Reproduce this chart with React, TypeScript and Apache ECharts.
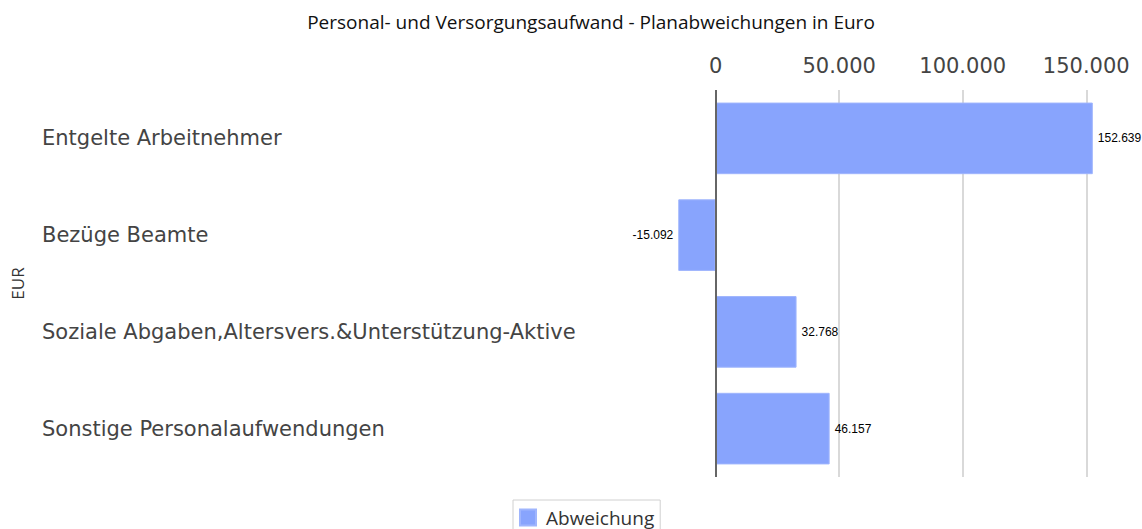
import React, { useEffect, useRef } from "react";
import * as echarts from "echarts";

const categories = [
  "Entgelte Arbeitnehmer",
  "Bezüge Beamte",
  "Soziale Abgaben,Altersvers.&Unterstützung-Aktive",
  "Sonstige Personalaufwendungen",
];
const abweichung = [152639, -15092, 32768, 46157];
const seriesName = "Abweichung";
const titleText = "Personal- und Versorgungsaufwand - Planabweichungen in Euro";
const axisName = "EUR";

const fmt = (v: number) => {
  const s = Math.abs(Math.round(v)).toString().replace(/\B(?=(\d{3})+(?!\d))/g, ".");
  return (v < 0 ? "-" : "") + s;
};

export default function App() {
  const ref = useRef<HTMLDivElement>(null);
  useEffect(() => {
    document.body.style.margin = "0";
    const chart = echarts.init(ref.current!, undefined, { renderer: "svg" });
    const gridLeft = 592;
    chart.setOption({
      animation: false,
      title: {
        text: titleText,
        left: 586,
        textAlign: "center",
        top: 7,
        textStyle: { fontSize: 19, fontWeight: "normal", color: "#111", fontFamily: "Open Sans" },
      },
      grid: { left: gridLeft, right: 31, top: 90, bottom: 52, containLabel: false },
      xAxis: {
        type: "value",
        position: "top",
        min: -50000,
        max: 160000,
        interval: 50000,
        axisLine: { show: false },
        axisTick: { show: false },
        axisLabel: {
          fontSize: 21,
          color: "#444",
          fontFamily: "DejaVu Sans",
          margin: 14,
          showMaxLabel: false,
          formatter: (v: number) => (v < 0 ? "" : fmt(v)),
        },
        splitLine: {
          show: true,
          showMinLine: false,
          showMaxLine: false,
          lineStyle: { color: "#d9d9d9", width: 2 },
        },
      },
      yAxis: {
        type: "category",
        inverse: true,
        data: categories,
        name: axisName,
        nameLocation: "middle",
        nameRotate: 90,
        nameGap: gridLeft - 26,
        nameTextStyle: { fontSize: 17, color: "#333", fontFamily: "Open Sans" },
        axisLine: { show: false },
        axisTick: { show: false },
        axisLabel: {
          align: "left",
          margin: gridLeft - 42,
          fontSize: 21,
          color: "#444",
          fontFamily: "DejaVu Sans",
        },
        splitLine: { show: false },
      },
      legend: {
        bottom: -8,
        left: 513,
        itemWidth: 16,
        itemHeight: 16,
        itemGap: 8,
        borderColor: "#d0d0d0",
        borderWidth: 1,
        padding: [8, 6, 10, 6],
        textStyle: { fontSize: 19, color: "#333", fontFamily: "Open Sans", padding: [0, 0, 0, 5] },
        data: [{ name: seriesName, icon: "rect" }],
      },
      series: [
        {
          name: seriesName,
          type: "bar",
          barCategoryGap: "26%",
          data: abweichung.map((v) => ({
            value: v,
            label: { position: v < 0 ? "left" : "right" },
          })),
          itemStyle: { color: "#88a4fd", borderColor: "#9fb5fd", borderWidth: 1 },
          label: {
            show: true,
            distance: 5,
            fontSize: 12,
            color: "#000",
            fontFamily: "Liberation Sans",
            formatter: (p: any) => fmt(p.value),
          },
          markLine: {
            silent: true,
            symbol: "none",
            label: { show: false },
            lineStyle: { color: "#666", width: 2, type: "solid" },
            data: [{ xAxis: 0 }],
          },
        },
      ],
    });
    return () => chart.dispose();
  }, []);
  return <div ref={ref} style={{ width: 1142, height: 529 }} />;
}
